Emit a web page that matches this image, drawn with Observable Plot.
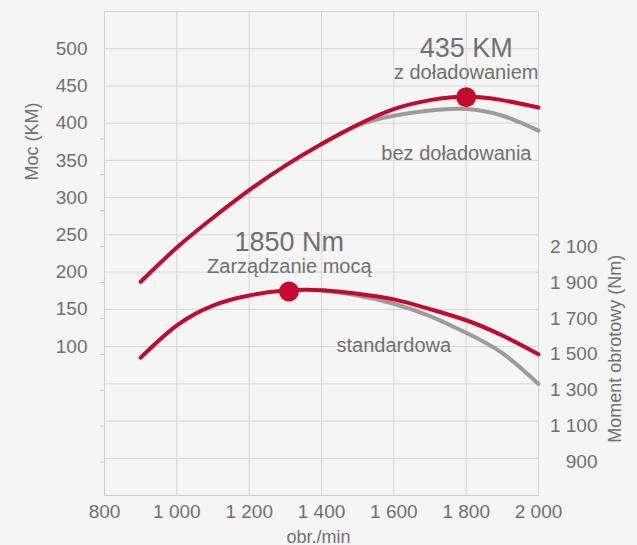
<!DOCTYPE html>
<html>
<head>
<meta charset="utf-8">
<script src="https://cdn.jsdelivr.net/npm/d3@7"></script>
<script src="https://cdn.jsdelivr.net/npm/@observablehq/plot@0.6"></script>
<style>
  html, body { margin: 0; padding: 0; background: #f5f5f5; }
  #chart svg { display: block; }
</style>
</head>
<body>
<div id="chart"></div>
<script>
// ---- data ----
const rpm = [900, 1000, 1100, 1200, 1300, 1400, 1500, 1600, 1700, 1800, 1900, 2000];
const powerBoost = [187, 233, 273, 310, 343, 372, 398, 419, 431, 436, 431, 421];   // KM, z doładowaniem
const torqueBoost = [1482, 1661, 1772, 1828, 1855, 1857, 1838, 1806, 1752, 1690, 1605, 1500]; // Nm, Zarządzanie mocą

const rpmStd = [1400, 1500, 1600, 1700, 1800, 1900, 2000];
const powerStd = [372, 397, 410, 417, 419, 410, 390];         // KM, bez doładowania
const torqueStd = [1857, 1828, 1782, 1713, 1620, 1507, 1335]; // Nm, standardowa

const xTicks = [800, 1000, 1200, 1400, 1600, 1800, 2000];
const powerTicks = [100, 150, 200, 250, 300, 350, 400, 450, 500];
const torqueTicks = [900, 1100, 1300, 1500, 1700, 1900, 2100];
const torqueMinorTicks = [900, 1100, 1300, 1500, 1700, 1900, 2100, 2300, 2500, 2700];

const peakPower = {rpm: 1800, value: 435};
const peakTorque = {rpm: 1310, value: 1850};

// ---- helpers ----
const fmt = d3.formatLocale({decimal: ",", thousands: " ", grouping: [3], currency: ["", ""]}).format(",");
// secondary (torque) axis expressed on the power (KM) scale
const toK = t => -55.1 + (t - 900) * 0.2411;

const boost = rpm.map((r, i) => ({rpm: r, p: powerBoost[i], t: torqueBoost[i]}));
const std = rpmStd.map((r, i) => ({rpm: r, p: powerStd[i], t: torqueStd[i]}));

const RED = "#c30a2c";
const GRAY = "#9c9c9c";
const TXT = "#707070";
const GRID = "#d5d5d5";

const chart = Plot.plot({
  width: 637,
  height: 545,
  marginLeft: 104,
  marginRight: 99,
  marginTop: 11,
  marginBottom: 50,
  style: {background: "#f5f5f5", fontFamily: "'Liberation Sans', Arial, sans-serif", color: TXT},
  x: {domain: [800, 2000]},
  y: {domain: [-100, 550]},
  marks: [
    Plot.gridY(d3.range(-100, 551, 50), {stroke: GRID, strokeOpacity: 1}),
    Plot.gridX(xTicks, {stroke: GRID, strokeOpacity: 1}),
    Plot.frame({stroke: "#d0d0d0"}),
    Plot.axisY(torqueMinorTicks.map(toK), {tickSize: 4, tickFormat: () => "", stroke: "#c4c4c4", label: null}),
    Plot.axisY(powerTicks, {tickSize: 0, tickPadding: 17, fontSize: 19, label: null, fill: TXT}),
    Plot.axisX(xTicks, {tickSize: 0, tickPadding: 9, fontSize: 19, tickFormat: fmt, label: null, fill: TXT}),
    Plot.text(torqueTicks, {frameAnchor: "right", y: d => toK(d), text: d => fmt(d), textAnchor: "end", dx: 59, fontSize: 19, fill: TXT}),
    // axis titles
    Plot.text(["Moc (KM)"], {frameAnchor: "left", y: () => 375.5, dx: -72, rotate: -90, textAnchor: "middle", lineAnchor: "middle", fontSize: 18, fill: TXT}),
    Plot.text(["Moment obrotowy (Nm)"], {frameAnchor: "right", y: () => 97, dx: 77, rotate: -90, textAnchor: "middle", lineAnchor: "middle", fontSize: 18, fill: TXT}),
    Plot.text(["obr./min"], {frameAnchor: "bottom", x: () => 1392, dy: 47, textAnchor: "middle", lineAnchor: "bottom", fontSize: 18, fill: TXT}),
    // curves
    Plot.line(std, {x: "rpm", y: "p", stroke: GRAY, strokeWidth: 4, curve: "natural"}),
    Plot.line(std, {x: "rpm", y: d => toK(d.t), stroke: GRAY, strokeWidth: 4, curve: "natural"}),
    Plot.line(boost, {x: "rpm", y: "p", stroke: RED, strokeWidth: 4, curve: "natural"}),
    Plot.line(boost, {x: "rpm", y: d => toK(d.t), stroke: RED, strokeWidth: 4, curve: "natural"}),
    Plot.dot([peakPower], {x: "rpm", y: "value", r: 10, fill: RED}),
    Plot.dot([peakTorque], {x: "rpm", y: d => toK(d.value), r: 10, fill: RED}),
    // annotations
    Plot.text([`${peakPower.value} KM`], {x: () => 1800, y: () => 489.5, lineAnchor: "bottom", fontSize: 27, fill: TXT}),
    Plot.text(["z doładowaniem"], {x: () => 1800, y: () => 460, lineAnchor: "bottom", fontSize: 20, fill: TXT}),
    Plot.text(["bez doładowania"], {x: () => 1773, y: () => 350, lineAnchor: "bottom", fontSize: 20, fill: TXT}),
    Plot.text([`${peakTorque.value} Nm`], {x: () => 1311, y: () => 228, lineAnchor: "bottom", fontSize: 27, fill: TXT}),
    Plot.text(["Zarządzanie mocą"], {x: () => 1311, y: () => 199, lineAnchor: "bottom", fontSize: 20, fill: TXT}),
    Plot.text(["standardowa"], {x: () => 1600, y: () => 93, lineAnchor: "bottom", fontSize: 20, fill: TXT})
  ]
});
document.getElementById("chart").appendChild(chart);
</script>
</body>
</html>
